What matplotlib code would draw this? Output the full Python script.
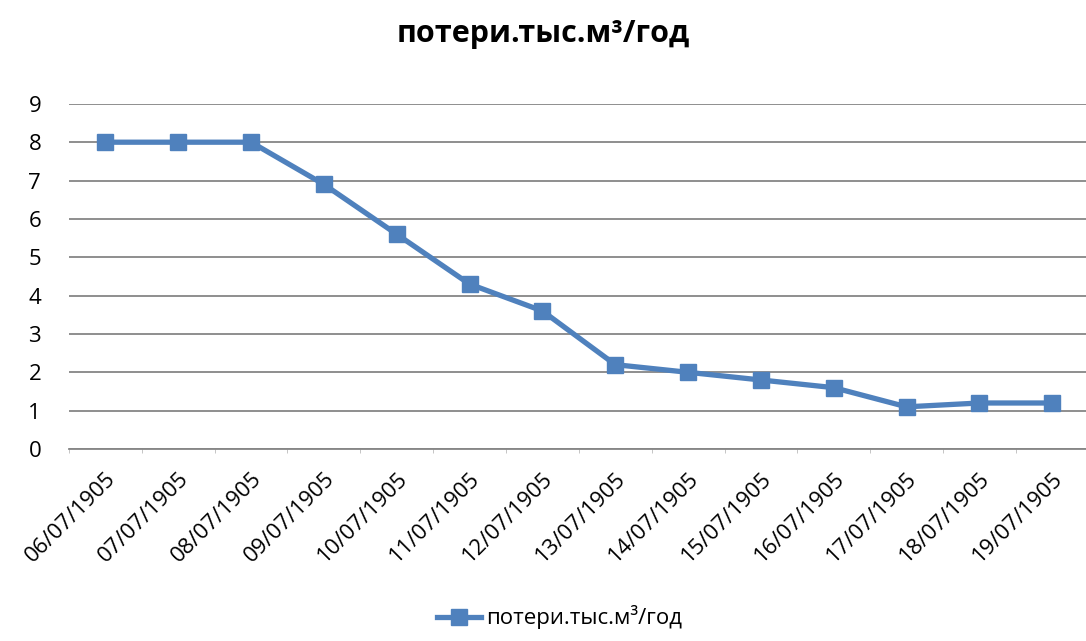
import numpy as np
import matplotlib
matplotlib.use("Agg")
import matplotlib.pyplot as plt

plt.rcParams['font.family'] = ['Open Sans', 'DejaVu Sans']

# данные
dates = ["06/07/1905", "07/07/1905", "08/07/1905", "09/07/1905", "10/07/1905",
         "11/07/1905", "12/07/1905", "13/07/1905", "14/07/1905", "15/07/1905",
         "16/07/1905", "17/07/1905", "18/07/1905", "19/07/1905"]
poteri = [8, 8, 8, 6.9, 5.6, 4.3, 3.6, 2.2, 2.0, 1.8, 1.6, 1.1, 1.2, 1.2]
nom = "потери.тыс.м³/год"

fig = plt.figure(figsize=(10.86, 6.41), dpi=100)
ax = fig.add_axes([0.0635, 0.2995, 0.939, 0.5385])

x = np.arange(len(dates))
ax.plot(x, poteri, color="#4F81BD", lw=3.8, marker="s", markersize=11,
        label=nom, zorder=3)

ax.set_xlim(-0.5, len(dates) - 0.5)
ax.set_ylim(0, 9)
ax.set_yticks(range(10))
ax.yaxis.grid(True, color="#868686", lw=1.3)
ax.set_axisbelow(True)

ax.set_xticks(x)
ax.set_xticklabels(dates, rotation=45, ha="right", rotation_mode="anchor")
ax.set_xticks(np.arange(-0.5, len(dates), 1), minor=True)
ax.tick_params(axis="x", which="major", length=0, pad=14, labelsize=16)
ax.tick_params(axis="x", which="minor", length=3, color="#bbbbbb")
ax.tick_params(axis="y", length=0, pad=20, labelsize=16)

for s in ["top", "right", "left"]:
    ax.spines[s].set_visible(False)
ax.spines["bottom"].set_color("#868686")
ax.spines["bottom"].set_linewidth(1.3)

fig.suptitle(nom, fontsize=22, fontweight="bold", y=0.97)
fig.legend(loc="center", bbox_to_anchor=(0.515, 0.037), frameon=False,
           fontsize=16, handlelength=2.0, handletextpad=0.2, markerscale=1.1)

fig.savefig("out.png", dpi=100)
